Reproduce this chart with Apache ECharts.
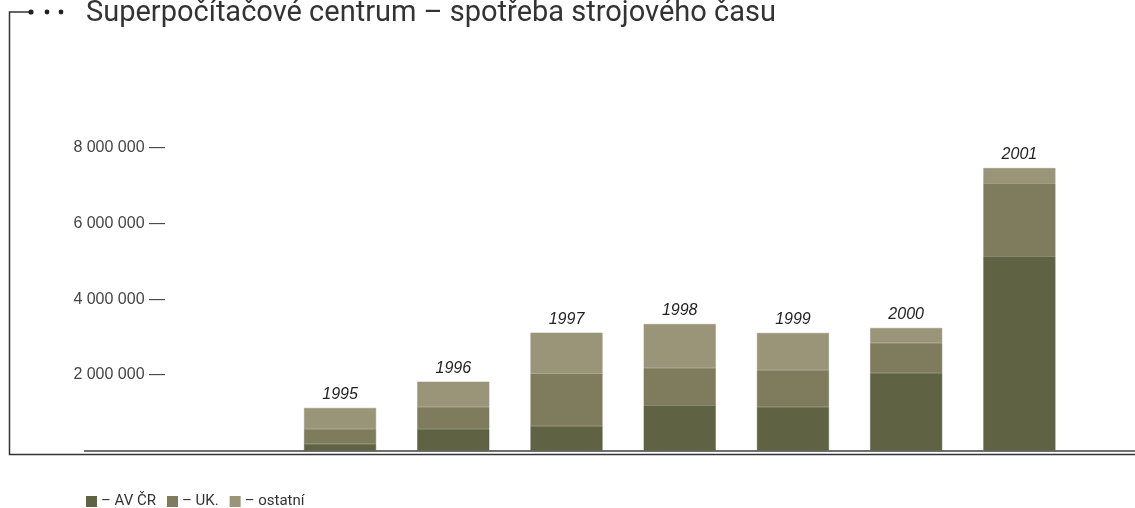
<!DOCTYPE html>
<html lang="cs">
<head>
<meta charset="utf-8">
<title>Superpočítačové centrum</title>
<script src="https://cdn.jsdelivr.net/npm/echarts@6/dist/echarts.min.js"></script>
<style>
  html, body { margin: 0; padding: 0; background: #fff; }
  #chart { width: 1135px; height: 508px; }
</style>
</head>
<body>
<div id="chart"></div>
<script>
// roky a hodnoty
const years = ['1995', '1996', '1997', '1998', '1999', '2000', '2001']
const avCr = [170000, 570000, 650000, 1200000, 1150000, 2050000, 5140000]
const uk = [400000, 580000, 1380000, 980000, 980000, 790000, 1930000]
const ostatni = [555000, 670000, 1085000, 1165000, 980000, 400000, 400000]
const yTicks = [0, 2000000, 4000000, 6000000, 8000000]

// dva prázdné sloty vlevo od roku 1995
const padSlots = ['_a', '_b']
const categories = padSlots.concat(years)
const pad = arr => padSlots.map(() => null).concat(arr)

const fmt = v => String(v).replace(/\B(?=(\d{3})+(?!\d))/g, ' ')

const colors = ['#5f6243', '#7f7b5d', '#9a9479']
const labelFont = '"Liberation Sans", Arial, sans-serif'
const titleFont = 'Roboto, sans-serif'

const chart = echarts.init(document.getElementById('chart'), null, { renderer: 'canvas' })

const barBase = {
  type: 'bar',
  stack: 'total',
  barWidth: 72,
  emphasis: { disabled: true },
}
// tenký okraj ve stejné barvě, aby mezi díly nebyla světlá spára
const fill = c => ({ color: c, borderColor: c, borderWidth: 0.5 })

chart.setOption({
  animation: false,
  title: {
    text: 'Superpočítačové centrum – spotřeba strojového času',
    left: 81,
    top: -6,
    textStyle: {
      color: '#333',
      fontSize: 29,
      fontWeight: 'normal',
      fontFamily: titleFont,
    },
  },
  legend: {
    left: 86,
    top: 494,
    padding: 0,
    itemWidth: 9,
    itemHeight: 9,
    itemGap: 11,
    icon: 'rect',
    formatter: name => '– ' + name,
    textStyle: { color: '#333', fontSize: 15, fontFamily: titleFont },
  },
  grid: { left: 57, right: 59, top: 148, bottom: 57.5 },
  xAxis: {
    type: 'category',
    data: categories,
    axisLine: { show: false },
    axisTick: { show: false },
    axisLabel: { show: false },
  },
  yAxis: {
    type: 'value',
    min: yTicks[0],
    max: yTicks[yTicks.length - 1],
    interval: yTicks[1] - yTicks[0],
    axisLine: { show: false },
    axisTick: { show: false },
    splitLine: { show: false },
    axisLabel: {
      margin: -108,
      color: '#444',
      fontSize: 16,
      fontFamily: labelFont,
      formatter: v => (v === 0 ? '' : fmt(v) + ' —'),
    },
  },
  series: [
    { ...barBase, name: 'AV ČR', data: pad(avCr), itemStyle: fill(colors[0]) },
    { ...barBase, name: 'UK.', data: pad(uk), itemStyle: fill(colors[1]) },
    {
      ...barBase,
      name: 'ostatní',
      data: pad(ostatni),
      itemStyle: fill(colors[2]),
      label: {
        show: true,
        position: 'top',
        distance: 5,
        formatter: '{b}',
        color: '#222',
        fontSize: 16,
        fontStyle: 'italic',
        fontFamily: labelFont,
      },
    },
  ],
  graphic: [
    // rámeček vlevo a dole
    {
      type: 'polyline',
      shape: { points: [[31, 12], [9.5, 12], [9.5, 454.5], [1135, 454.5]] },
      style: { stroke: '#333', lineWidth: 1.5, fill: null },
    },
    { type: 'circle', shape: { cx: 31, cy: 12, r: 2.6 }, style: { fill: '#222' } },
    { type: 'circle', shape: { cx: 47, cy: 12, r: 2.4 }, style: { fill: '#222' } },
    { type: 'circle', shape: { cx: 61, cy: 12, r: 2.4 }, style: { fill: '#222' } },
    // osa x
    {
      type: 'line',
      z: -1,
      shape: { x1: 84, y1: 451, x2: 1135, y2: 451 },
      style: { stroke: '#6f6f6f', lineWidth: 2 },
    },
  ],
})
</script>
</body>
</html>
